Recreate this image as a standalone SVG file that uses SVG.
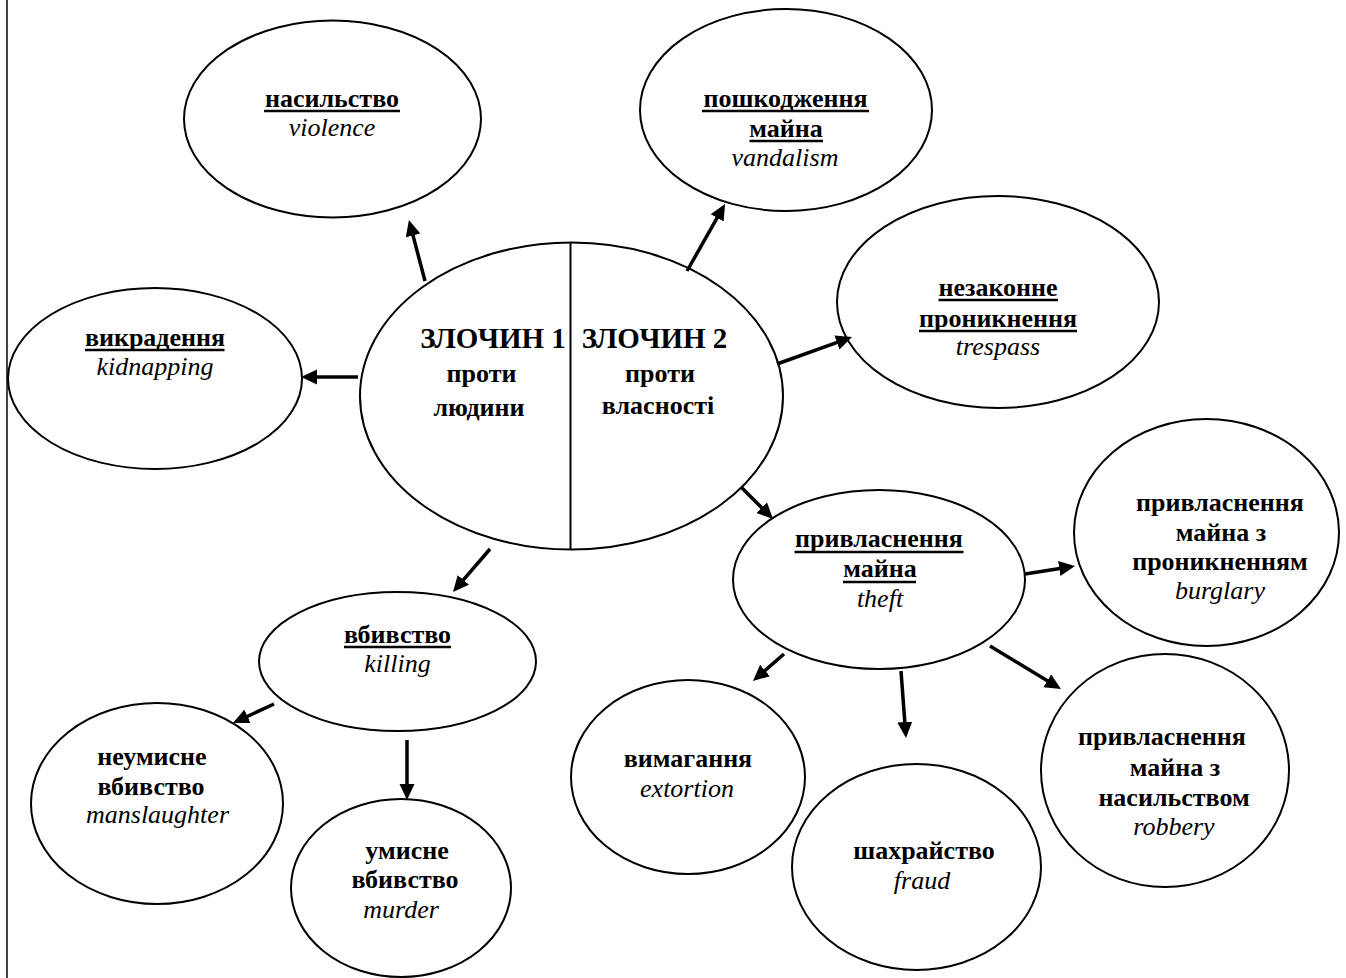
<svg xmlns="http://www.w3.org/2000/svg" width="1346" height="978" viewBox="0 0 1346 978">
<style>
.n ellipse{fill:#fff;stroke:#000;stroke-width:2}
text{font-family:"Liberation Serif","Times New Roman",serif;font-size:26px;text-anchor:middle;fill:#000}
.b{font-weight:bold}
.i{font-style:italic}
.big{font-size:29px;font-weight:bold}
.u{stroke:#000;stroke-width:2.6}
.c line{stroke:#000;stroke-width:3.5;marker-end:url(#ah)}
</style>
<defs>
<marker id="ah" markerUnits="userSpaceOnUse" markerWidth="17" markerHeight="16" refX="4" refY="7.5" orient="auto">
<path d="M0,0 L16,7.5 L0,15 Z" fill="#000"/>
</marker>
</defs>
<rect width="1346" height="978" fill="#fff"/>
<line x1="7" y1="0" x2="7" y2="978" stroke="#444" stroke-width="2"/>

<g id="center" class="n">
<ellipse cx="571.5" cy="396" rx="211.5" ry="153.5"/>
<line x1="570.5" y1="242.5" x2="570.5" y2="549.5" stroke="#000" stroke-width="2"/>
<text class="big" x="493" y="348">ЗЛОЧИН 1</text>
<text class="b" x="481.5" y="382">проти</text>
<text class="b" x="479" y="416">людини</text>
<text class="big" x="654.5" y="348">ЗЛОЧИН 2</text>
<text class="b" x="660" y="382">проти</text>
<text class="b" x="658" y="414">власності</text>
</g>

<g id="violence" class="n">
<ellipse cx="332.5" cy="119" rx="148.5" ry="98.5"/>
<text class="b" x="332" y="107">насильство</text>
<line class="u" x1="264" y1="111" x2="400" y2="111"/>
<text class="i" x="332" y="136">violence</text>
</g>

<g id="kidnapping" class="n">
<ellipse cx="155" cy="378.5" rx="147" ry="90.5"/>
<text class="b" x="155" y="346">викрадення</text>
<line class="u" x1="85" y1="350" x2="224.5" y2="350"/>
<text class="i" x="155" y="375">kidnapping</text>
</g>

<g id="vandalism" class="n">
<ellipse cx="786" cy="110" rx="146" ry="101"/>
<text class="b" x="785.5" y="107">пошкодження</text>
<line class="u" x1="702" y1="111" x2="869" y2="111"/>
<text class="b" x="786" y="137">майна</text>
<line class="u" x1="749.5" y1="141" x2="823" y2="141"/>
<text class="i" x="785" y="166">vandalism</text>
</g>

<g id="trespass" class="n">
<ellipse cx="998" cy="302" rx="161" ry="106"/>
<text class="b" x="998" y="296">незаконне</text>
<line class="u" x1="938.5" y1="300" x2="1058" y2="300"/>
<text class="b" x="998" y="327">проникнення</text>
<line class="u" x1="919" y1="331" x2="1077" y2="331"/>
<text class="i" x="998" y="355">trespass</text>
</g>

<g id="theft" class="n">
<ellipse cx="879" cy="579.5" rx="146" ry="89.5"/>
<text class="b" x="879" y="547">привласнення</text>
<line class="u" x1="794.5" y1="552" x2="963.5" y2="552"/>
<text class="b" x="880" y="577">майна</text>
<line class="u" x1="843" y1="582" x2="916" y2="582"/>
<text class="i" x="880" y="607">theft</text>
</g>

<g id="burglary" class="n">
<ellipse cx="1206.5" cy="532.5" rx="132.5" ry="113.5"/>
<text class="b" x="1220" y="511">привласнення</text>
<text class="b" x="1221" y="541">майна з</text>
<text class="b" x="1220" y="570">проникненням</text>
<text class="i" x="1220" y="599">burglary</text>
</g>

<g id="extortion" class="n">
<ellipse cx="688" cy="777" rx="117" ry="97"/>
<text class="b" x="688" y="767">вимагання</text>
<text class="i" x="687" y="797">extortion</text>
</g>

<g id="fraud" class="n">
<ellipse cx="916.5" cy="867" rx="124.5" ry="103"/>
<text class="b" x="924" y="859">шахрайство</text>
<text class="i" x="922" y="889">fraud</text>
</g>

<g id="robbery" class="n">
<ellipse cx="1165" cy="770.5" rx="124" ry="116.5"/>
<text class="b" x="1162" y="745">привласнення</text>
<text class="b" x="1175" y="776">майна з</text>
<text class="b" x="1174" y="806">насильством</text>
<text class="i" x="1174" y="835">robbery</text>
</g>

<g id="killing" class="n">
<ellipse cx="397.5" cy="661.5" rx="138.5" ry="69.5"/>
<text class="b" x="397.5" y="643">вбивство</text>
<line class="u" x1="344" y1="647" x2="451" y2="647"/>
<text class="i" x="397.5" y="672">killing</text>
</g>

<g id="manslaughter" class="n">
<ellipse cx="157" cy="803.5" rx="126" ry="100.5"/>
<text class="b" x="152" y="765">неумисне</text>
<text class="b" x="151" y="795">вбивство</text>
<text class="i" x="157.5" y="823">manslaughter</text>
</g>

<g id="murder" class="n">
<ellipse cx="401" cy="888" rx="110" ry="89"/>
<text class="b" x="407" y="859">умисне</text>
<text class="b" x="405" y="888">вбивство</text>
<text class="i" x="401" y="918">murder</text>
</g>

<g id="connectors" class="c">
<line x1="425" y1="281" x2="412" y2="231.6"/>
<line x1="358" y1="377" x2="313" y2="377"/>
<line x1="687" y1="271" x2="719.1" y2="214.4"/>
<line x1="777" y1="364" x2="840.7" y2="341.1"/>
<line x1="490" y1="549" x2="460.8" y2="582.9"/>
<line x1="274" y1="704" x2="243.9" y2="718"/>
<line x1="407" y1="740" x2="407" y2="788"/>
<line x1="741" y1="487" x2="764.5" y2="510.5"/>
<line x1="1025" y1="574" x2="1063.2" y2="567.9"/>
<line x1="784" y1="654" x2="762" y2="673.1"/>
<line x1="901" y1="671" x2="905.1" y2="726"/>
<line x1="990" y1="646" x2="1050.7" y2="682.8"/>
</g>
</svg>
